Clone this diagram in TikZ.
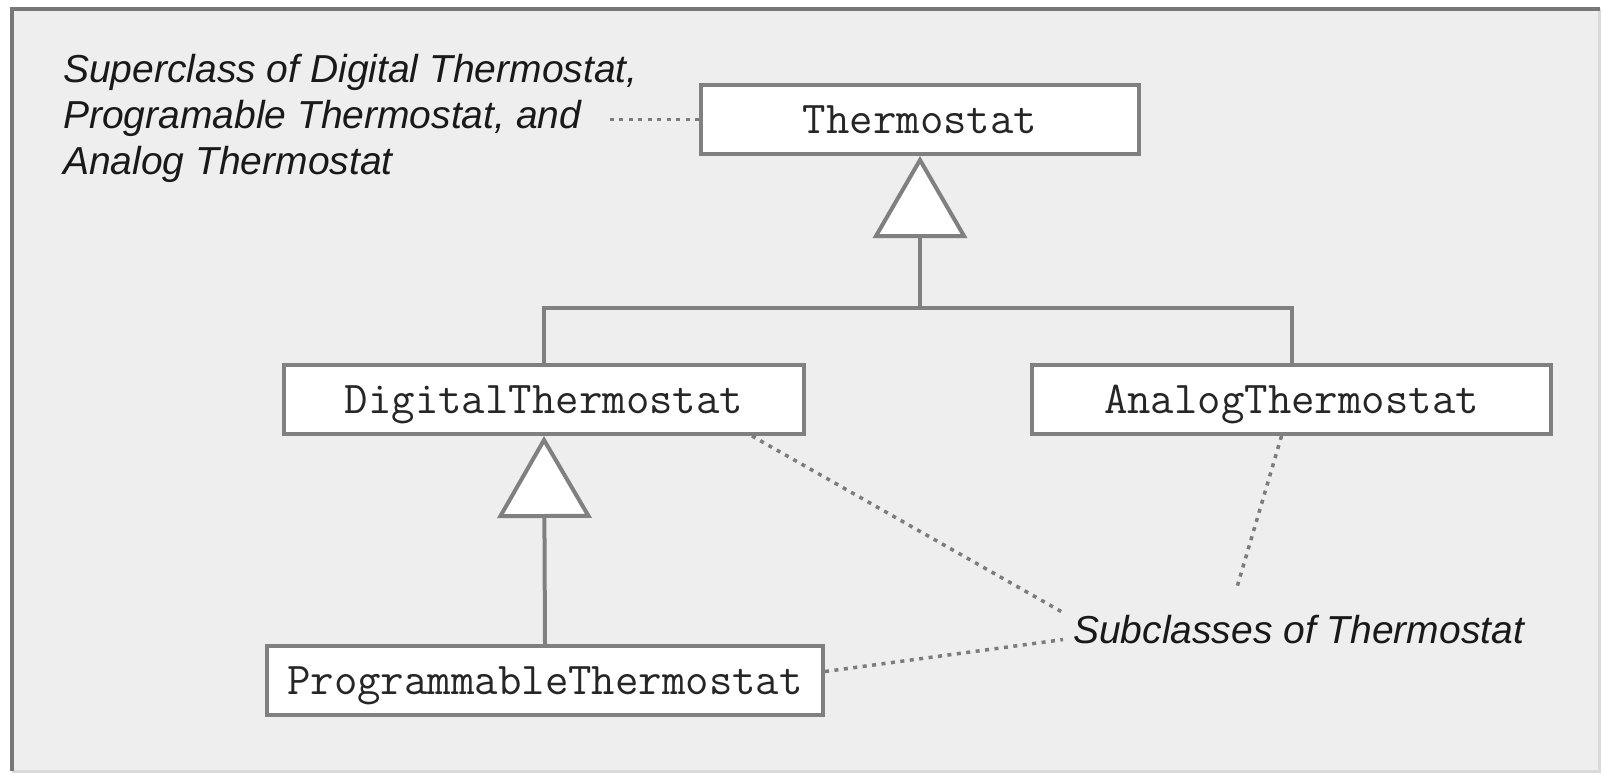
\documentclass[tikz,border=0pt]{standalone}
\usepackage{fontspec}
\setmainfont{Liberation Sans}
\usetikzlibrary{arrows.meta,calc}

\definecolor{panelgray}{HTML}{EEEEEE}
\definecolor{edgegray}{HTML}{808080}
\definecolor{dotgray}{HTML}{7C7C7C}
\definecolor{framedark}{HTML}{777777}
\definecolor{framelight}{HTML}{DADADA}

\begin{document}
\begin{tikzpicture}[x=1pt, y={(0pt,-1pt)},
		classbox/.style={draw=edgegray, line width=4pt, fill=white, minimum height=69pt, inner sep=0pt,
			text height=35pt, text depth=8pt, text=black!85, font=\fontsize{45.5}{50}\selectfont\ttfamily},
		note/.style={inner sep=0pt, text=black!90, font=\fontsize{39}{46}\selectfont\itshape},
		genline/.style={draw=edgegray, line width=4pt},
		inherit/.style={genline, -{Triangle[length=82pt, width=94pt, fill=white]}},
		dotline/.style={draw=dotgray, line width=3.5pt, dash pattern=on 4pt off 5.5pt}]
		
		\useasboundingbox (0,0) rectangle (1602,773);
		
		% ---------- Panel ----------
		\fill[white] (0,0) rectangle (1602,773);
		\fill[panelgray] (12,9) rectangle (1599,771);
		\draw[framelight, line width=3pt] (1599,9) -- (1599,771) -- (12,771);
		\draw[framedark, line width=4pt] (12,771) -- (12,9) -- (1600,9);
		
		% ---------- Classes ----------
		\node[classbox, minimum width=438pt] (thermo)  at (920,119.5)  {Thermostat};
		\node[classbox, minimum width=520pt] (digital) at (544,399.5)  {DigitalThermostat};
		\node[classbox, minimum width=519pt] (analog)  at (1291.5,399.5) {AnalogThermostat};
		\node[classbox, minimum width=556pt] (prog)    at (545,680.5)  {ProgrammableThermostat};
		
		% ---------- Notes ----------
		\node[note, anchor=north west, align=left] (super) at (63,54)
		{Superclass of Digital Thermostat,\\Programable Thermostat, and\\Analog Thermostat};
		\node[note, anchor=base west] (sub) at (1073,643) {Subclasses of Thermostat};
		
		% ---------- Generalisation ----------
		\coordinate (bar) at (920,308);
		\draw[genline] (digital.north) |- (bar) -| (analog.north);
		\draw[inherit] (bar) -- (thermo.south);
		\draw[inherit] (prog.north) -- (digital.south);
		
		% ---------- Note links ----------
		\coordinate (subUp)   at ($(sub.north west)+(163,-24)$);
		\coordinate (subLeft) at ($(sub.north west)+(-10,-2)$);
		\coordinate (subLow)  at ($(sub.south west)+(-10,-4)$);
		\draw[dotline] (thermo.west) -- ++(-94,0);
		\draw[dotline] ($(digital.south east)+(-54,0)$) -- (subLeft);
		\draw[dotline] ($(analog.south)+(-10,0)$) -- (subUp);
		\draw[dotline] ($(prog.east)+(0,-9)$) -- (subLow);
		
	\end{tikzpicture}
\end{document}
